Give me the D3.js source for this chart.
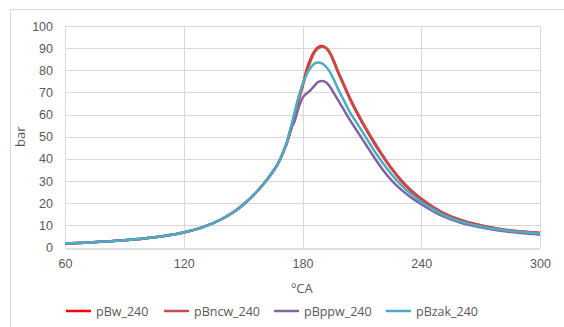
<!DOCTYPE html>
<html><head><meta charset="utf-8">
<script src="https://cdn.jsdelivr.net/npm/d3@7/dist/d3.min.js"></script>
<style>
html,body{margin:0;padding:0;background:#fff;}
svg{display:block;font-family:"Open Sans","Liberation Sans",sans-serif;}
</style></head><body>
<svg id="c" width="564" height="327"></svg>
<script>
const crankAngle = [60,70,80,90,100,110,120,130,140,145,150,155,160,165,168,170,172,174,176,178,180,182,184,186,188,190,192,194,196,198,200,204,208,212,216,220,225,230,235,240,250,260,270,280,290,300];
const pBw_240   = [1.8,2.2,2.7,3.3,4.1,5.2,6.8,9.3,13.2,15.9,19.3,23.4,28.3,34.2,38.5,42.5,47,53,60,67,73,80,85,88.5,90.5,91,90,87.5,83.5,79,75,67,60,53.5,47.5,42,35.5,30,25.5,21.8,16,12.3,10,8.3,7.2,6.5];
const pBncw_240 = [1.8,2.2,2.7,3.3,4.1,5.2,6.8,9.3,13.2,15.9,19.3,23.4,28.3,34.2,38.5,42.5,47,52.5,59,66,72.5,79,84,88,90,90.6,90,87.8,84,79.5,75.5,67.5,60.5,54,48,42.4,35.9,30.3,25.8,22.1,16.2,12.4,10.1,8.4,7.3,6.6];
const pBppw_240 = [1.8,2.2,2.7,3.3,4.1,5.2,6.8,9.3,13.2,15.9,19.3,23.4,28.3,34.2,38.5,42.5,47,53.5,57,63,67.5,69.5,71,73,74.8,75.2,74.5,72.5,69.5,66.5,63.5,57.5,52,46.5,41,35.8,30.3,26,22.5,19.6,14.5,11.2,9.1,7.5,6.5,5.8];
const pBzak_240 = [1.8,2.2,2.7,3.3,4.1,5.2,6.8,9.3,13.2,15.9,19.3,23.4,28.3,34.2,38.5,42.5,47,54,61,68,73.5,78,81,83,83.5,83,81.5,79,75.5,71.5,68,61,55.5,49.8,44,38.8,33,28,24,20.6,15.2,11.7,9.5,8,7,6.3];
const seriesNames = ["pBw_240","pBncw_240","pBppw_240","pBzak_240"];
const seriesColors = ["#FF0000","#C0504D","#8064A2","#4BACC6"];
const xTicks = [60,120,180,240,300];
const yTicks = [0,10,20,30,40,50,60,70,80,90,100];

const seriesValues = [pBw_240,pBncw_240,pBppw_240,pBzak_240];
const svg = d3.select("#c");
const L=65, R=540, T=26, B=247.5;
const x = d3.scaleLinear().domain([60,300]).range([L,R]);
const y = d3.scaleLinear().domain([0,100]).range([B,T]);

// chart frame
svg.append("path").attr("d","M10.5,327 V9.5 H564").attr("fill","none").attr("stroke","#D9D9D9").attr("stroke-width",1);

// gridlines
svg.append("g").selectAll("line").data(yTicks.filter(d=>d>0)).join("line")
  .attr("x1",L).attr("x2",R).attr("y1",d=>Math.round(y(d))+0.5).attr("y2",d=>Math.round(y(d))+0.5)
  .attr("stroke","#D9D9D9");
svg.append("g").selectAll("line").data(xTicks).join("line")
  .attr("y1",T).attr("y2",B).attr("x1",d=>Math.round(x(d))+0.5).attr("x2",d=>Math.round(x(d))+0.5)
  .attr("stroke","#D9D9D9");

// axes
const yAxis = svg.append("g").attr("transform",`translate(${L},0)`)
  .call(d3.axisLeft(y).tickValues(yTicks).tickSize(0).tickPadding(12));
yAxis.select(".domain").remove();
yAxis.selectAll("text").attr("fill","#595959").style("font-size","12.5px");
const xAxis = svg.append("g").attr("transform",`translate(0,${Math.round(B)+0.5})`)
  .call(d3.axisBottom(x).tickValues(xTicks).tickSize(0).tickPadding(11));
xAxis.select(".domain").attr("stroke","#BFBFBF");
xAxis.selectAll("text").attr("fill","#595959").style("font-size","12.5px");

// titles
svg.append("text").attr("transform",`translate(25,${(T+B)/2}) rotate(-90)`).attr("text-anchor","middle")
  .attr("fill","#595959").style("font-size","13px").text("bar");
svg.append("text").attr("x",302).attr("y",293).attr("text-anchor","middle")
  .attr("fill","#595959").style("font-size","13px").text("ºCA");

// lines
const line = d3.line().x((d,i)=>x(crankAngle[i])).y(d=>y(d)).curve(d3.curveMonotoneX);
svg.append("g").selectAll("path").data(seriesValues).join("path")
  .attr("d",d=>line(d)).attr("fill","none")
  .attr("stroke",(d,i)=>seriesColors[i]).attr("stroke-width",2.5).attr("stroke-linejoin","round");

// legend
const legX = [66,164,274,386];
const leg = svg.append("g").selectAll("g").data(seriesNames).join("g")
  .attr("transform",(d,i)=>`translate(${legX[i]},311)`);
leg.append("line").attr("x1",0).attr("x2",25).attr("y1",0).attr("y2",0)
  .attr("stroke",(d,i)=>seriesColors[i]).attr("stroke-width",2.5);
leg.append("text").attr("x",30).attr("y",4.5).attr("fill","#595959").style("font-size","12.5px").text(d=>d);
</script>
</body></html>
